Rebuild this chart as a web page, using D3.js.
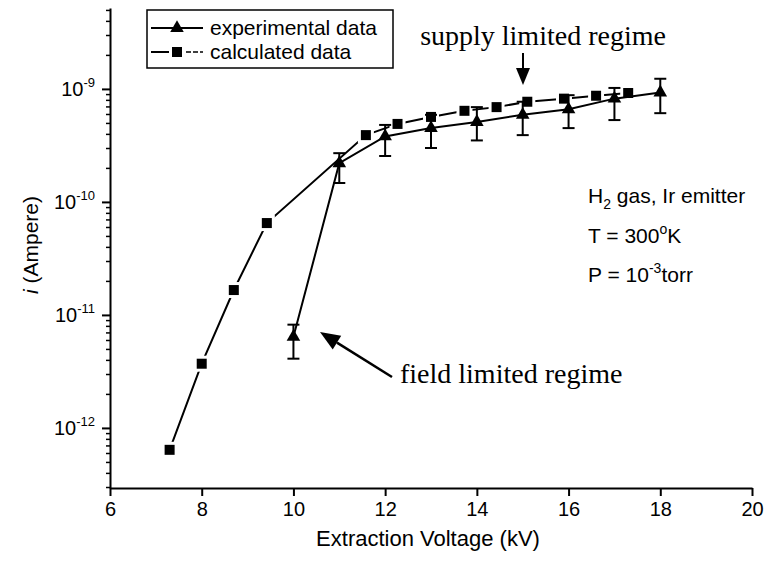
<!DOCTYPE html>
<html>
<head>
<meta charset="utf-8">
<script src="https://cdn.jsdelivr.net/npm/d3@7"></script>
<style>
   body { margin: 0; background: #fff; }
   svg { display: block; }
   .sans { font-family: "Liberation Sans", Arial, sans-serif; }
   .serif { font-family: "Liberation Serif", "Times New Roman", serif; }
</style>
</head>
<body>
<svg id="chart" width="766" height="564"></svg>
<script>
// 計算値 (calculated data)
const calcVoltage = [7.3, 8.0, 8.7, 9.42, 11.58, 12.27, 13.0, 13.73, 14.43, 15.1, 15.9, 16.6, 17.3];
const calcCurrent = [6.4e-13, 3.7e-12, 1.66e-11, 6.5e-11, 3.9e-10, 4.9e-10, 5.65e-10, 6.4e-10, 6.9e-10, 7.7e-10, 8.2e-10, 8.7e-10, 9.2e-10];

// 実験値 (experimental data) とエラーバー
const expVoltage = [10, 11, 12, 13, 14, 15, 16, 17, 18];
const expCurrent = [6.4e-12, 2.2e-10, 3.8e-10, 4.5e-10, 5.1e-10, 5.9e-10, 6.6e-10, 8.2e-10, 9.3e-10];
const expErrLow = [4.1e-12, 1.47e-10, 2.55e-10, 3.0e-10, 3.5e-10, 3.9e-10, 4.5e-10, 5.3e-10, 6.1e-10];
const expErrHigh = [8.2e-12, 2.7e-10, 4.8e-10, 5.9e-10, 6.9e-10, 7.7e-10, 8.8e-10, 1.02e-9, 1.23e-9];

// 軸の目盛り
const xTicks = [6, 8, 10, 12, 14, 16, 18, 20];
const yTicks = [1e-12, 1e-11, 1e-10, 1e-9];
const yTickExp = ["-12", "-11", "-10", "-9"];

const svg = d3.select("#chart");

const x = d3.scaleLinear().domain([6, 20]).range([110, 752]);
const y = d3.scaleLog().domain([2.94e-13, 5.2e-9]).range([488, 8]);

drawAxes();
drawCalculated();
drawExperimental();
drawLegend();
drawNotes();

// 軸
function drawAxes() {
   const xAxis = svg.append("g")
      .attr("transform", "translate(0,488)")
      .call(d3.axisBottom(x).tickValues(xTicks).tickSize(8).tickSizeOuter(0).tickPadding(6));
   xAxis.selectAll("path, line").attr("stroke", "#000").attr("stroke-width", 2);
   xAxis.selectAll("text")
      .attr("class", "sans")
      .attr("font-size", 20)
      .attr("fill", "#000");

   // 補助目盛り
   let minor = [];
   for (let e = -13; e <= -9; e++) {
      for (let k = 2; k <= 9; k++) {
         const v = k * Math.pow(10, e);
         if (v >= y.domain()[0] && v <= y.domain()[1]) minor.push(v);
      }
   }
   const yMinor = svg.append("g")
      .attr("transform", "translate(110,0)")
      .call(d3.axisLeft(y).tickValues(minor).tickSize(4).tickSizeOuter(0).tickFormat(() => ""));
   yMinor.selectAll("line").attr("stroke", "#000").attr("stroke-width", 1.5);
   yMinor.select("path").remove();

   const yAxis = svg.append("g")
      .attr("transform", "translate(110,0)")
      .call(d3.axisLeft(y).tickValues(yTicks).tickSize(8).tickSizeOuter(0).tickFormat(() => ""));
   yAxis.selectAll("path, line").attr("stroke", "#000").attr("stroke-width", 2);

   const labels = svg.append("g").attr("class", "sans");
   yTicks.forEach((v, i) => {
      const t = labels.append("text")
         .attr("x", 95)
         .attr("y", y(v) + 7)
         .attr("text-anchor", "end")
         .attr("font-size", 20);
      t.append("tspan").text("10");
      t.append("tspan").attr("dy", -9).attr("font-size", 13).text(yTickExp[i]);
   });

   svg.append("text")
      .attr("class", "sans")
      .attr("x", 428)
      .attr("y", 546)
      .attr("text-anchor", "middle")
      .attr("font-size", 22)
      .text("Extraction Voltage (kV)");

   const yt = svg.append("text")
      .attr("class", "sans")
      .attr("transform", "translate(38,245) rotate(-90)")
      .attr("text-anchor", "middle")
      .attr("font-size", 21);
   yt.append("tspan").attr("font-style", "italic").text("i");
   yt.append("tspan").text(" (Ampere)");
}

// 計算値の線と四角
function drawCalculated() {
   const line = d3.line().x((d) => x(d[0])).y((d) => y(d[1]));
   const pts = calcVoltage.map((v, i) => [v, calcCurrent[i]]);

   svg.append("path")
      .attr("d", line(pts))
      .attr("fill", "none")
      .attr("stroke", "#000")
      .attr("stroke-width", 2);

   // 四角の周りの白いすき間
   svg.append("g").selectAll("rect")
      .data(pts)
      .enter()
      .append("rect")
      .attr("x", (d) => x(d[0]) - 8)
      .attr("y", (d) => y(d[1]) - 8)
      .attr("width", 16)
      .attr("height", 16)
      .attr("fill", "#fff");

   svg.append("g").selectAll("rect")
      .data(pts)
      .enter()
      .append("rect")
      .attr("x", (d) => x(d[0]) - 5)
      .attr("y", (d) => y(d[1]) - 5)
      .attr("width", 10)
      .attr("height", 10)
      .attr("fill", "#000");
}

// 実験値の線、エラーバー、三角
function drawExperimental() {
   const line = d3.line().x((d) => x(d[0])).y((d) => y(d[1]));
   const pts = expVoltage.map((v, i) => [v, expCurrent[i], expErrLow[i], expErrHigh[i]]);

   svg.append("path")
      .attr("d", line(pts))
      .attr("fill", "none")
      .attr("stroke", "#000")
      .attr("stroke-width", 2);

   const err = svg.append("g").attr("stroke", "#000").attr("stroke-width", 2);
   pts.forEach((d) => {
      const cx = x(d[0]);
      err.append("line").attr("x1", cx).attr("x2", cx).attr("y1", y(d[2])).attr("y2", y(d[3]));
      err.append("line").attr("x1", cx - 6).attr("x2", cx + 6).attr("y1", y(d[2])).attr("y2", y(d[2]));
      err.append("line").attr("x1", cx - 6).attr("x2", cx + 6).attr("y1", y(d[3])).attr("y2", y(d[3]));
   });

   svg.append("g").selectAll("path")
      .data(pts)
      .enter()
      .append("path")
      .attr("d", d3.symbol(d3.symbolTriangle, 80))
      .attr("transform", (d) => `translate(${x(d[0])},${y(d[1])})`)
      .attr("fill", "#000");
}

// 凡例
function drawLegend() {
   const g = svg.append("g");
   g.append("rect")
      .attr("x", 147).attr("y", 10)
      .attr("width", 246).attr("height", 58)
      .attr("fill", "#fff")
      .attr("stroke", "#000")
      .attr("stroke-width", 1.5);

   g.append("line").attr("x1", 151).attr("x2", 203).attr("y1", 28).attr("y2", 28)
      .attr("stroke", "#000").attr("stroke-width", 2);
   g.append("path")
      .attr("d", d3.symbol(d3.symbolTriangle, 80))
      .attr("transform", "translate(177,28)");
   g.append("text").attr("class", "sans")
      .attr("x", 210).attr("y", 35).attr("font-size", 21)
      .text("experimental data");

   g.append("line").attr("x1", 151).attr("x2", 169).attr("y1", 52).attr("y2", 52)
      .attr("stroke", "#000").attr("stroke-width", 2);
   g.append("line").attr("x1", 186).attr("x2", 203).attr("y1", 52).attr("y2", 52)
      .attr("stroke", "#000").attr("stroke-width", 1.5).attr("stroke-dasharray", "5,2");
   g.append("rect").attr("x", 172).attr("y", 47).attr("width", 10).attr("height", 10).attr("fill", "#000");
   g.append("text").attr("class", "sans")
      .attr("x", 210).attr("y", 59).attr("font-size", 21)
      .text("calculated data");
}

// 注釈
function drawNotes() {
   svg.append("text").attr("class", "serif")
      .attr("x", 543).attr("y", 45)
      .attr("text-anchor", "middle")
      .attr("font-size", 28)
      .text("supply limited regime");

   svg.append("line").attr("x1", 523).attr("x2", 523).attr("y1", 53).attr("y2", 72)
      .attr("stroke", "#000").attr("stroke-width", 2);
   svg.append("path").attr("d", "M516,68 L530,68 L523,85 Z").attr("fill", "#000");

   svg.append("text").attr("class", "serif")
      .attr("x", 400).attr("y", 383)
      .attr("font-size", 28)
      .text("field limited regime");

   // 矢印 (tail → tip)
   const tail = [392, 377], tip = [320, 332];
   const ang = Math.atan2(tip[1] - tail[1], tip[0] - tail[0]);
   const len = 20, half = 8;
   const bx = tip[0] - len * Math.cos(ang), by = tip[1] - len * Math.sin(ang);
   svg.append("line").attr("x1", tail[0]).attr("y1", tail[1]).attr("x2", bx).attr("y2", by)
      .attr("stroke", "#000").attr("stroke-width", 2.5);
   svg.append("path")
      .attr("d", `M${tip[0]},${tip[1]} L${bx + half * Math.sin(ang)},${by - half * Math.cos(ang)} L${bx - half * Math.sin(ang)},${by + half * Math.cos(ang)} Z`)
      .attr("fill", "#000");

   const info = svg.append("g").attr("class", "sans").attr("font-size", 21);
   const l1 = info.append("text").attr("x", 588).attr("y", 203);
   l1.append("tspan").text("H");
   l1.append("tspan").attr("dy", 6).attr("font-size", 14).text("2");
   l1.append("tspan").attr("dy", -6).text(" gas, Ir emitter");

   const l2 = info.append("text").attr("x", 588).attr("y", 243);
   l2.append("tspan").text("T = 300");
   l2.append("tspan").attr("dy", -9).attr("font-size", 14).text("o");
   l2.append("tspan").attr("dy", 9).text("K");

   const l3 = info.append("text").attr("x", 588).attr("y", 282);
   l3.append("tspan").text("P = 10");
   l3.append("tspan").attr("dy", -9).attr("font-size", 14).text("-3");
   l3.append("tspan").attr("dy", 9).text("torr");
}
</script>
</body>
</html>
